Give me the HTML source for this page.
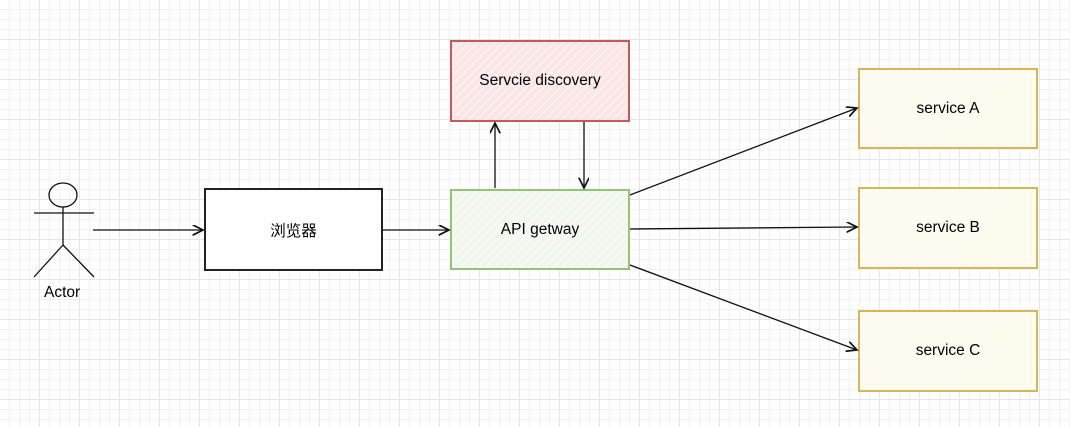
<!DOCTYPE html>
<html><head><meta charset="utf-8"><style>
body{margin:0;width:1070px;height:427px;overflow:hidden;background:#fff;
background-image:linear-gradient(#e6e6e6 1px,transparent 1px),linear-gradient(90deg,#e6e6e6 1px,transparent 1px),linear-gradient(#f2f2f2 1px,transparent 1px),linear-gradient(90deg,#f2f2f2 1px,transparent 1px);
background-size:40px 40px,40px 40px,10px 10px,10px 10px;background-position:-1px -1px;
font-family:"Liberation Sans","Noto Sans CJK SC",sans-serif;position:relative}
.b{position:absolute;box-sizing:border-box;display:flex;align-items:center;justify-content:center;font-size:15.5px;color:#000}
.h{background-image:repeating-linear-gradient(-45deg,rgba(0,0,0,0) 0 4px,rgba(255,255,255,.35) 4px 6px)}
</style></head><body>
<div class="b" style="left:204px;top:188px;width:179px;height:83px;border:2px solid #222;background:#fff">浏览器</div>
<div class="b h" style="left:450px;top:40px;width:180px;height:82px;border:2px solid #c55a5a;background-color:#fae6e5">Servcie discovery</div>
<div class="b h" style="left:450px;top:189px;width:180px;height:81px;border:2px solid #97c27a;background-color:#f1f7ed">API getway</div>
<div class="b h" style="left:858px;top:68px;width:180px;height:81px;border:2px solid #d6b656;background-color:#fffbef">service A</div>
<div class="b h" style="left:858px;top:187px;width:180px;height:82px;border:2px solid #d6b656;background-color:#fffbef">service B</div>
<div class="b h" style="left:858px;top:310px;width:180px;height:82px;border:2px solid #d6b656;background-color:#fffbef">service C</div>
<svg width="1070" height="427" style="position:absolute;left:0;top:0" fill="none" stroke="#111" stroke-width="1.3">
<defs><marker id="a" markerWidth="10" markerHeight="10" refX="8" refY="4" orient="auto"><path d="M0,0L8,4L0,8" stroke="#111" fill="none"/></marker></defs>
<ellipse cx="63" cy="195" rx="14" ry="12"/>
<path d="M63,207V245M34,213H94M63,245L34,277M63,245L94,277"/>
<path d="M93,230L203,230" marker-end="url(#a)"/>
<path d="M383,230L449,230" marker-end="url(#a)"/>
<path d="M495,188L495,123" marker-end="url(#a)"/>
<path d="M584,122L584,188" marker-end="url(#a)"/>
<path d="M630,195L857,108" marker-end="url(#a)"/>
<path d="M630,229L857,227" marker-end="url(#a)"/>
<path d="M630,265L857,350" marker-end="url(#a)"/>
</svg>
<div style="position:absolute;left:44px;top:284px;font-size:15.5px">Actor</div>
</body></html>
